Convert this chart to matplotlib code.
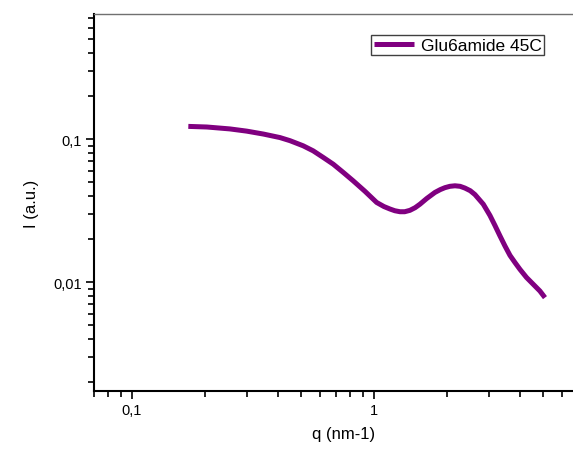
import matplotlib
matplotlib.use("Agg")
import matplotlib.pyplot as plt
from matplotlib.ticker import FixedLocator, FuncFormatter, LogLocator, NullFormatter

plt.rcParams['font.family'] = ['Liberation Sans', 'DejaVu Sans']

# Data (log-log SAXS curve)
q = [0.171, 0.204, 0.254, 0.298, 0.349, 0.409, 0.450, 0.510, 0.561, 0.617,
     0.679, 0.747, 0.821, 0.918, 1.026, 1.10, 1.164, 1.22, 1.281, 1.34,
     1.408, 1.48, 1.549, 1.65, 1.786, 1.88, 1.965, 2.06, 2.162, 2.27,
     2.377, 2.50, 2.614, 2.83, 3.015, 3.16, 3.316, 3.48, 3.649, 3.83,
     4.013, 4.27, 4.553, 4.85, 5.09]
intensity = [0.1227, 0.1215, 0.1178, 0.1137, 0.1085, 0.1025, 0.0975, 0.0898, 0.0828, 0.0745,
             0.0668, 0.0585, 0.0511, 0.0432, 0.0361, 0.0338, 0.0325, 0.0316, 0.0311, 0.0311,
             0.0318, 0.0332, 0.0351, 0.0384, 0.0424, 0.0444, 0.0458, 0.0468, 0.0472, 0.0468,
             0.0455, 0.0436, 0.0410, 0.0351, 0.0293, 0.0250, 0.0211, 0.0179, 0.0154, 0.0137,
             0.0123, 0.0108, 0.00968, 0.00869, 0.00781]
series_label = "Glu6amide 45C"
x_major = [0.1, 1]
y_major = [0.01, 0.1]

W, H = 573, 452
fig = plt.figure(figsize=(W / 100, H / 100), dpi=100)
# axes runs past the right edge like in the cropped original
ax = fig.add_axes([94 / W, (H - 392) / H, 498.5 / W, 377 / H])

ax.plot(q, intensity, color="#800080", lw=3.6, solid_capstyle="butt",
        solid_joinstyle="round", label=series_label)

ax.set_xscale("log")
ax.set_yscale("log")
ax.set_xlim(0.0697, 8)
ax.set_ylim(0.00174, 0.748)

comma = FuncFormatter(lambda v, p: f"{v:g}".replace(".", ","))
ax.xaxis.set_major_locator(FixedLocator(x_major))
ax.yaxis.set_major_locator(FixedLocator(y_major))
ax.xaxis.set_major_formatter(comma)
ax.yaxis.set_major_formatter(comma)
ax.xaxis.set_minor_locator(LogLocator(base=10, subs=range(2, 10)))
ax.yaxis.set_minor_locator(LogLocator(base=10, subs=range(2, 10)))
ax.xaxis.set_minor_formatter(NullFormatter())
ax.yaxis.set_minor_formatter(NullFormatter())

ax.tick_params(which="both", direction="out", top=False, right=False, width=1.2, labelsize=10.5)
ax.tick_params(which="major", length=6, pad=3)
ax.tick_params(which="minor", length=4)

for side in ("left", "bottom"):
    ax.spines[side].set_linewidth(1.5)
ax.spines["top"].set_color("#707070")
ax.spines["top"].set_linewidth(1.0)
ax.spines["right"].set_visible(False)

ax.set_xlabel("q (nm-1)", fontsize=12, labelpad=6)
ax.set_ylabel("I (a.u.)", fontsize=12, labelpad=10)

leg = ax.legend(loc="upper right", bbox_to_anchor=(544 / W, 1 - 36 / H), bbox_transform=fig.transFigure,
                fancybox=False, framealpha=1, edgecolor="#404040", fontsize=12.5,
                handlelength=2.3, borderpad=0.15, handletextpad=0.4, borderaxespad=0)
leg.get_frame().set_linewidth(1.0)

fig.savefig("out.png", dpi=100)
